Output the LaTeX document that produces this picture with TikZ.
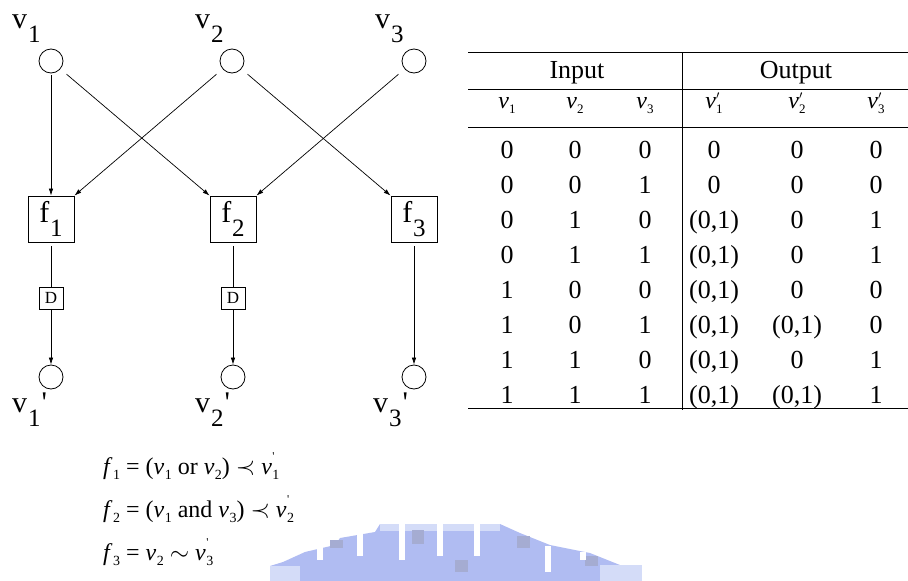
\documentclass[tikz,border=0pt]{standalone}
\usepackage{fontspec}
\setmainfont{Liberation Serif}
\usetikzlibrary{arrows.meta}
\definecolor{wmblue}{RGB}{176,188,242}
\definecolor{wmgrey}{RGB}{165,172,210}
\definecolor{wmlight}{RGB}{212,220,248}
% big labels: letter + lowered subscript (+ optional suffix)
\newcommand{\biglbl}[3]{{\fontsize{30}{30}\selectfont #1}\kern1pt\raisebox{-14pt}{\fontsize{25}{25}\selectfont #2}{\fontsize{30}{30}\selectfont #3}}
% table header variables
\newcommand{\tvar}[1]{\textit{v}\raisebox{-5pt}{\fontsize{13}{13}\selectfont #1}}
\newcommand{\tvarp}[1]{\textit{v}\rlap{\raisebox{8.5pt}{\fontsize{13}{13}\selectfont$\prime$}}\raisebox{-5pt}{\fontsize{13}{13}\selectfont #1}}
% equation pieces
\newcommand{\ev}[1]{\textit{v}\kern0.5pt\raisebox{-5pt}{\fontsize{14}{14}\selectfont #1}}
\newcommand{\evp}[1]{\textit{v}\kern0.5pt\rlap{\raisebox{14pt}{\fontsize{12}{12}\selectfont\textquotesingle}}\raisebox{-5pt}{\fontsize{14}{14}\selectfont #1}}
\newcommand{\ef}[1]{\textit{f}\kern0.5pt\raisebox{-5pt}{\fontsize{14}{14}\selectfont #1}}
\begin{document}
\begin{tikzpicture}[x=1pt,y=-1pt,
  vcirc/.style={circle,draw,line width=0.8pt,minimum size=24pt,inner sep=0pt},
  fbox/.style={rectangle,draw,line width=0.8pt,minimum width=46pt,minimum height=46pt,inner sep=0pt},
  dbox/.style={rectangle,draw,line width=0.8pt,minimum width=24pt,minimum height=22pt,inner sep=0pt,font=\fontsize{17}{17}\selectfont},
  lbl/.style={anchor=base west,inner sep=0pt},
  arr/.style={-{Latex[length=7pt,width=4.5pt]},line width=0.7pt},
  conn/.style={line width=0.7pt},
  cell/.style={anchor=base,inner sep=0pt,font=\fontsize{26}{26}\selectfont},
  rule/.style={line width=1pt}]
\useasboundingbox (0,0) rectangle (908,581);

% ---------- watermark ----------
\fill[wmblue] (270,581) -- (270,566) -- (283,562) -- (305,552) -- (335,545) -- (340,538)
  -- (375,532) -- (380,524) -- (500,524) -- (520,533) -- (550,545) -- (590,553)
  -- (620,565) -- (640,572) -- (642,581) -- cycle;
\fill[wmlight] (380,524) rectangle (500,531);
\fill[wmlight] (270,566) rectangle (300,581);
\fill[wmlight] (600,565) rectangle (642,581);
\fill[wmgrey] (330,540) rectangle (343,548);
\fill[wmgrey] (412,530) rectangle (424,544);
\fill[wmgrey] (517,536) rectangle (530,548);
\fill[wmgrey] (585,556) rectangle (598,566);
\fill[wmgrey] (455,560) rectangle (468,572);
\fill[white] (317,546) rectangle (323,560);
\fill[white] (357,533) rectangle (363,556);
\fill[white] (399,524) rectangle (405,560);
\fill[white] (437,524) rectangle (443,556);
\fill[white] (474,524) rectangle (480,556);
\fill[white] (545,546) rectangle (551,572);
\fill[white] (580,552) rectangle (586,560);

% ---------- network ----------
\node[vcirc] (v1) at (51,61) {};
\node[vcirc] (v2) at (232,61) {};
\node[vcirc] (v3) at (414,61) {};
\node[lbl] (lv1) at (12,28) {\biglbl{v}{1}{}};
\node[lbl] (lv2) at (195,28) {\biglbl{v}{2}{}};
\node[lbl] (lv3) at (375,28) {\biglbl{v}{3}{}};

\node[fbox] (f1) at (51,219) {\raisebox{-2pt}{\biglbl{f}{1}{}}};
\node[fbox] (f2) at (233,219) {\raisebox{-2pt}{\biglbl{f}{2}{}}};
\node[fbox] (f3) at (414,219) {\raisebox{-2pt}{\biglbl{f}{3}{}}};

\node[dbox] (d1) at (51,298) {D};
\node[dbox] (d2) at (233,298) {D};

\node[vcirc] (o1) at (51,377) {};
\node[vcirc] (o2) at (233,377) {};
\node[vcirc] (o3) at (414,377) {};
\node[lbl] (lo1) at (12,412) {\biglbl{v}{1}{\kern1pt\textquotesingle}};
\node[lbl] (lo2) at (195,412) {\biglbl{v}{2}{\kern1pt\textquotesingle}};
\node[lbl] (lo3) at (373,412) {\biglbl{v}{3}{\kern1pt\textquotesingle}};

\draw[arr,shorten <=2pt] (v1) -- (f1);
\draw[arr,shorten <=8pt] (v1) -- (f2.north west);
\draw[arr,shorten <=8pt] (v2) -- (f1.north east);
\draw[arr,shorten <=8pt] (v2) -- (f3.north west);
\draw[arr,shorten <=8pt] (v3) -- (f2.north east);
\draw[conn,shorten <=4pt] (f1) -- (d1);
\draw[conn,shorten <=4pt] (f2) -- (d2);
\draw[arr] (d1) -- (o1);
\draw[arr] (d2) -- (o2);
\draw[arr,shorten <=4pt] (f3) -- (o3);

% ---------- table ----------
\draw[rule] (468,52) -- (908,52);
\draw[rule] (468,89) -- (908,89);
\draw[rule] (468,127) -- (908,127);
\draw[rule] (468,408) -- (908,408);
\draw[rule] (682,52) -- (682,410);

\node[cell] (hin) at (577,78) {Input};
\node[cell] (hout) at (796,78) {Output};

\node[cell,font=\fontsize{24}{24}\selectfont] (s1) at (507,108) {\tvar{1}};
\node[cell,font=\fontsize{24}{24}\selectfont] (s2) at (575,108) {\tvar{2}};
\node[cell,font=\fontsize{24}{24}\selectfont] (s3) at (645,108) {\tvar{3}};
\node[cell,font=\fontsize{24}{24}\selectfont] (s4) at (714,108) {\tvarp{1}};
\node[cell,font=\fontsize{24}{24}\selectfont] (s5) at (797,108) {\tvarp{2}};
\node[cell,font=\fontsize{24}{24}\selectfont] (s6) at (876,108) {\tvarp{3}};

\foreach \a/\b/\c/\d/\e/\f [count=\k from 0] in {
  0/0/0/0/0/0,
  0/0/1/0/0/0,
  0/1/0/(0{,}1)/0/1,
  0/1/1/(0{,}1)/0/1,
  1/0/0/(0{,}1)/0/0,
  1/0/1/(0{,}1)/(0{,}1)/0,
  1/1/0/(0{,}1)/0/1,
  1/1/1/(0{,}1)/(0{,}1)/1}{
  \pgfmathsetmacro{\yy}{158+35*\k}
  \node[cell] (r\k c1) at (507,\yy) {\a};
  \node[cell] (r\k c2) at (575,\yy) {\b};
  \node[cell] (r\k c3) at (645,\yy) {\c};
  \node[cell] (r\k c4) at (714,\yy) {\d};
  \node[cell] (r\k c5) at (797,\yy) {\e};
  \node[cell] (r\k c6) at (876,\yy) {\f};
}

% ---------- equations ----------
\node[lbl,font=\fontsize{24}{24}\selectfont] (eq1) at (103,474)
  {\ef{1} = (\ev{1} or \ev{2}) $\prec$ \evp{1}};
\node[lbl,font=\fontsize{24}{24}\selectfont] (eq2) at (103,517)
  {\ef{2} = (\ev{1} and \ev{3}) $\prec$ \evp{2}};
\node[lbl,font=\fontsize{24}{24}\selectfont] (eq3) at (103,560)
  {\ef{3} = \ev{2} $\sim$ \evp{3}};
\end{tikzpicture}
\end{document}
